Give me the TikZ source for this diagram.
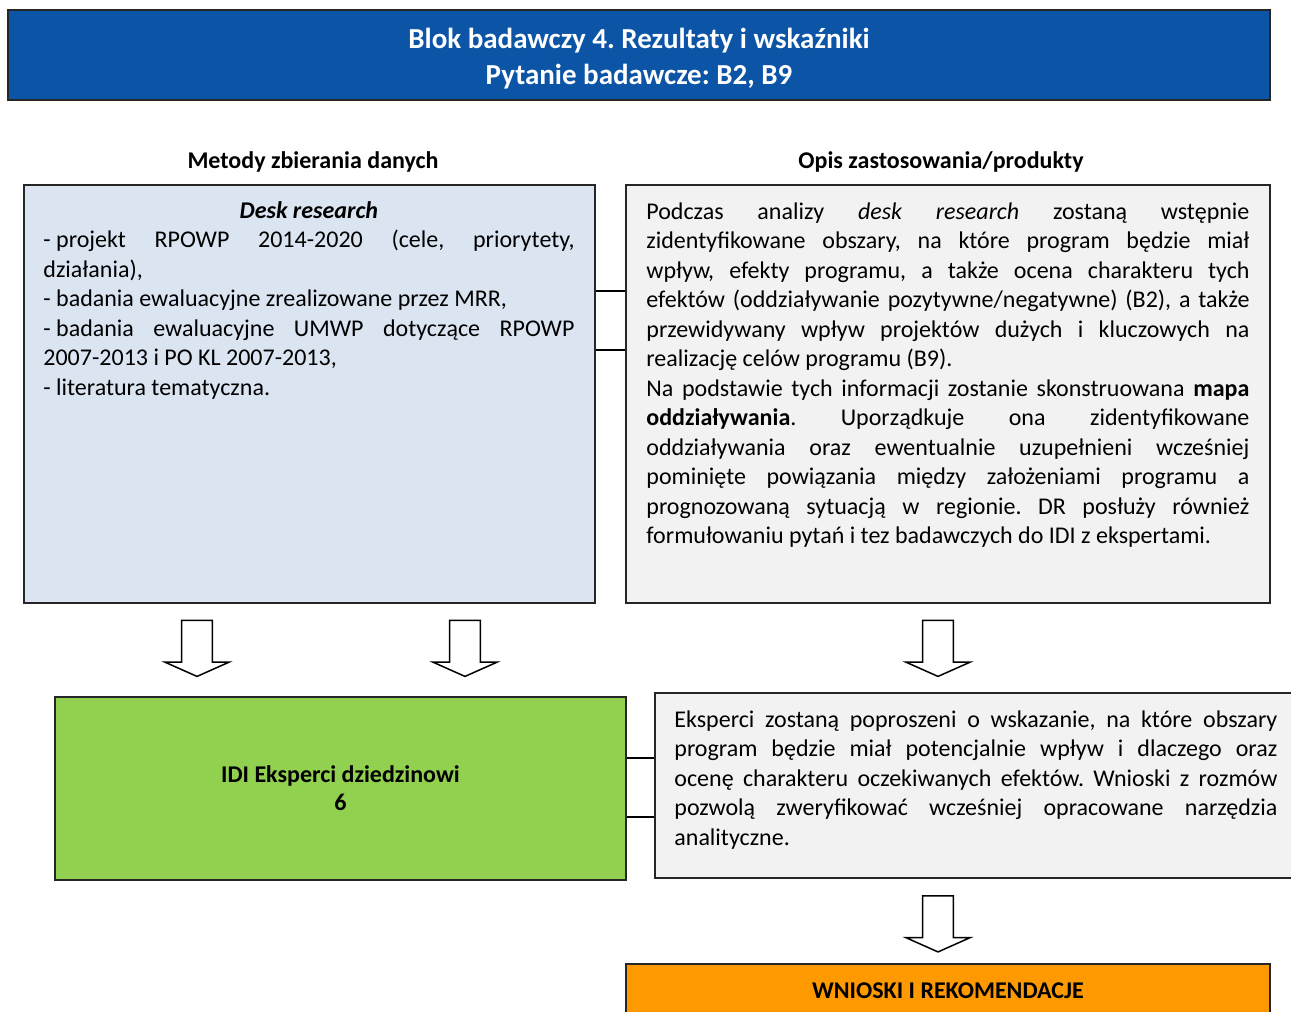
\documentclass[tikz,border=0pt]{standalone}
\usepackage{fontspec}
\setmainfont{Carlito}
\usepackage{tikz}
\usetikzlibrary{shapes.arrows, positioning, calc}
\definecolor{titleblue}{RGB}{12, 84, 166}
\definecolor{deskblue}{RGB}{219, 229, 241}
\definecolor{panelgray}{RGB}{242, 242, 242}
\definecolor{idigreen}{RGB}{146, 208, 80}
\definecolor{wnorange}{RGB}{255, 153, 0}
\tolerance=10000
\hbadness=10000
\hyphenpenalty=10000
\frenchspacing
\tikzstyle{panel} = [
    rectangle,
    draw=black!85,
    line width=1pt,
    inner sep=0pt
]
\tikzstyle{bodytext} = [
    inner sep=0pt,
    align=justify,
    font=\fontsize{12}{14.75}\selectfont
]
\tikzstyle{heading} = [
    font=\fontsize{12}{14}\selectfont\bfseries
]
\tikzstyle{downarrow} = [
    single arrow,
    shape border rotate=270,
    draw=black,
    line width=0.75pt,
    fill=white,
    inner xsep=7pt,
    inner ysep=0pt,
    minimum height=28pt,
    minimum width=32pt,
    single arrow head extend=8pt,
    single arrow tip angle=132
]
\tikzstyle{link} = [
    line width=1pt,
    color=black
]

\begin{document}
\begin{tikzpicture}[x=0.5pt, y=-0.5pt]
        \useasboundingbox (0,0) rectangle (1291,1012);

        \node[panel, fill=titleblue, minimum width=631pt, minimum height=45pt] (title) at (639,55) {};
        \node[text=white, align=center, font=\fontsize{14.5}{18}\selectfont\bfseries] (titletxt) at (639,59)
              {Blok badawczy 4. Rezultaty i wskaźniki\\Pytanie badawcze: B2, B9};

        \node[heading] (methods) at (313,162) {Metody zbierania danych};
        \node[heading] (uses) at (941,162) {Opis zastosowania/produkty};

        \node[panel, fill=deskblue, minimum width=285.5pt, minimum height=209pt] (desk) at (309.5,394) {};
        \node[panel, fill=panelgray, minimum width=322pt, minimum height=209pt] (opis) at (948,394) {};

        \node[bodytext, text width=265.5pt, below right=8.5pt and 10pt of desk.north west] (desktxt) {%
            {\centering\textbf{\textit{Desk research}}\par}
            \mbox{- projekt} RPOWP 2014-2020 (cele, priorytety,\linebreak działania),\par
            - badania ewaluacyjne zrealizowane przez MRR,\par
            \mbox{- badania} ewaluacyjne UMWP dotyczące RPOWP\linebreak 2007-2013 i PO KL 2007-2013,\par
            - literatura tematyczna.};

        \node[bodytext, text width=301.5pt, below right=9pt and 10.5pt of opis.north west] (opistxt) {%
            Podczas analizy \textit{desk research} zostaną wstępnie\linebreak
            zidentyfikowane obszary, na które program będzie miał\linebreak
            wpływ, efekty programu, a także ocena charakteru tych\linebreak
            efektów (oddziaływanie pozytywne/negatywne) (B2), a także\linebreak
            przewidywany wpływ projektów dużych i kluczowych na\linebreak
            realizację celów programu (B9).\par
            Na podstawie tych informacji zostanie skonstruowana \textbf{mapa}\linebreak
            \textbf{oddziaływania}. Uporządkuje ona zidentyfikowane\linebreak
            oddziaływania oraz ewentualnie uzupełnieni wcześniej\linebreak
            pominięte powiązania między założeniami programu a\linebreak
            prognozowaną sytuacją w regionie. DR posłuży również\linebreak
            formułowaniu pytań i tez badawczych do IDI z ekspertami.};

        \draw[link] ([yshift=-53.5pt]desk.north east) -- ([yshift=-53.5pt]opis.north west);
        \draw[link] ([yshift=-83pt]desk.north east) -- ([yshift=-83pt]opis.north west);

        \node[downarrow] (arrA) at (197,645) {};
        \node[downarrow] (arrB) at (465,645) {};
        \node[downarrow] (arrC) at (938,645) {};

        \node[panel, fill=idigreen, minimum width=285.5pt, minimum height=91.5pt, align=center,
              font=\fontsize{12}{14}\selectfont\bfseries] (idi) at (340.5,788.5)
              {IDI Eksperci dziedzinowi\\6};
        \node[panel, fill=panelgray, minimum width=322.5pt, minimum height=92.5pt] (eksp) at (977.5,785.5) {};

        \node[bodytext, text width=301.5pt, below right=9pt and 10pt of eksp.north west] (eksptxt) {%
            Eksperci zostaną poproszeni o wskazanie, na które obszary\linebreak
            program będzie miał potencjalnie wpływ i dlaczego oraz\linebreak
            ocenę charakteru oczekiwanych efektów. Wnioski z rozmów\linebreak
            pozwolą zweryfikować wcześniej opracowane narzędzia\linebreak
            analityczne.};

        \coordinate (lk1) at ([yshift=-31pt]idi.north east);
        \coordinate (lk2) at ([yshift=-60.5pt]idi.north east);
        \draw[link] (lk1) -- (lk1 -| eksp.west);
        \draw[link] (lk2) -- (lk2 -| eksp.west);

        \node[downarrow] (arrD) at (938,920.5) {};

        \node[panel, fill=wnorange, minimum width=322pt, minimum height=27pt,
              font=\fontsize{12}{14}\selectfont\bfseries] (wnioski) at (948,991) {WNIOSKI I REKOMENDACJE};
    \end{tikzpicture}
\end{document}
